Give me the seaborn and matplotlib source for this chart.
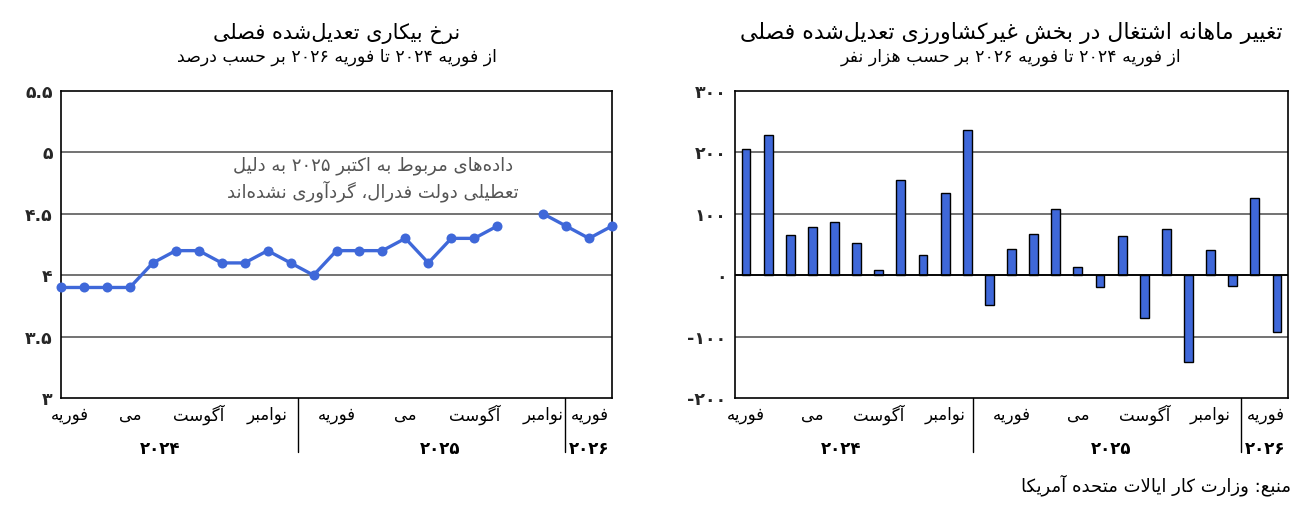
import numpy as np
import pandas as pd
import matplotlib
matplotlib.use("Agg")
import matplotlib.pyplot as plt
import matplotlib.transforms as mtransforms
import seaborn as sns

# ---------------- data ----------------
month_index = list(range(25))  # Feb 2024 .. Feb 2026
unemployment = [3.9, 3.9, 3.9, 3.9, 4.1, 4.2, 4.2, 4.1, 4.1, 4.2, 4.1, 4.0,
                4.2, 4.2, 4.2, 4.3, 4.1, 4.3, 4.3, 4.4, np.nan, 4.5, 4.4, 4.3, 4.4]
payrolls = [206, 228, 65, 79, 87, 53, 9, 155, 33, 134, 237, -48,
            42, 67, 108, 13, -20, 64, -70, 76, -141, 41, -17, 126, -92]

month_labels = ["فوریه", "می", "آگوست", "نوامبر", "فوریه", "می", "آگوست", "نوامبر", "فوریه"]
month_label_pos = [0, 3, 6, 9, 12, 15, 18, 21, 24]
year_labels = ["۲۰۲۴", "۲۰۲۵", "۲۰۲۶"]
year_label_pos = [4.3, 16.5, 24]

rate_ticks = [3, 3.5, 4, 4.5, 5, 5.5]
rate_tick_labels = ["۳", "۳.۵", "۴", "۴.۵", "۵", "۵.۵"]
jobs_ticks = [-200, -100, 0, 100, 200, 300]
jobs_tick_labels = ["-۲۰۰", "-۱۰۰", "۰", "۱۰۰", "۲۰۰", "۳۰۰"]

title_left = "نرخ بیکاری تعدیل‌شده فصلی"
subtitle_left = "از فوریه ۲۰۲۴ تا فوریه ۲۰۲۶ بر حسب درصد"
title_right = "تغییر ماهانه اشتغال در بخش غیرکشاورزی تعدیل‌شده فصلی"
subtitle_right = "از فوریه ۲۰۲۴ تا فوریه ۲۰۲۶ بر حسب هزار نفر"
note_text = "داده‌های مربوط به اکتبر ۲۰۲۵ به دلیل\nتعطیلی دولت فدرال، گردآوری نشده‌اند"
source_text = "منبع: وزارت کار ایالات متحده آمریکا"

# ---------------- Persian shaping + RTL ordering helper ----------------
FORMS = {
    '\u0621': ('\uFE80',),
    '\u0622': ('\uFE81', '\uFE82'),
    '\u0623': ('\uFE83', '\uFE84'),
    '\u0624': ('\uFE85', '\uFE86'),
    '\u0625': ('\uFE87', '\uFE88'),
    '\u0626': ('\uFE89', '\uFE8A', '\uFE8B', '\uFE8C'),
    '\u0627': ('\uFE8D', '\uFE8E'),
    '\u0628': ('\uFE8F', '\uFE90', '\uFE91', '\uFE92'),
    '\u0629': ('\uFE93', '\uFE94'),
    '\u062A': ('\uFE95', '\uFE96', '\uFE97', '\uFE98'),
    '\u062B': ('\uFE99', '\uFE9A', '\uFE9B', '\uFE9C'),
    '\u062C': ('\uFE9D', '\uFE9E', '\uFE9F', '\uFEA0'),
    '\u062D': ('\uFEA1', '\uFEA2', '\uFEA3', '\uFEA4'),
    '\u062E': ('\uFEA5', '\uFEA6', '\uFEA7', '\uFEA8'),
    '\u062F': ('\uFEA9', '\uFEAA'),
    '\u0630': ('\uFEAB', '\uFEAC'),
    '\u0631': ('\uFEAD', '\uFEAE'),
    '\u0632': ('\uFEAF', '\uFEB0'),
    '\u0633': ('\uFEB1', '\uFEB2', '\uFEB3', '\uFEB4'),
    '\u0634': ('\uFEB5', '\uFEB6', '\uFEB7', '\uFEB8'),
    '\u0635': ('\uFEB9', '\uFEBA', '\uFEBB', '\uFEBC'),
    '\u0636': ('\uFEBD', '\uFEBE', '\uFEBF', '\uFEC0'),
    '\u0637': ('\uFEC1', '\uFEC2', '\uFEC3', '\uFEC4'),
    '\u0638': ('\uFEC5', '\uFEC6', '\uFEC7', '\uFEC8'),
    '\u0639': ('\uFEC9', '\uFECA', '\uFECB', '\uFECC'),
    '\u063A': ('\uFECD', '\uFECE', '\uFECF', '\uFED0'),
    '\u0641': ('\uFED1', '\uFED2', '\uFED3', '\uFED4'),
    '\u0642': ('\uFED5', '\uFED6', '\uFED7', '\uFED8'),
    '\u0643': ('\uFED9', '\uFEDA', '\uFEDB', '\uFEDC'),
    '\u0644': ('\uFEDD', '\uFEDE', '\uFEDF', '\uFEE0'),
    '\u0645': ('\uFEE1', '\uFEE2', '\uFEE3', '\uFEE4'),
    '\u0646': ('\uFEE5', '\uFEE6', '\uFEE7', '\uFEE8'),
    '\u0647': ('\uFEE9', '\uFEEA', '\uFEEB', '\uFEEC'),
    '\u0648': ('\uFEED', '\uFEEE'),
    '\u0649': ('\uFEEF', '\uFEF0'),
    '\u064A': ('\uFEF1', '\uFEF2', '\uFEF3', '\uFEF4'),
    '\u067E': ('\uFB56', '\uFB57', '\uFB58', '\uFB59'),
    '\u0686': ('\uFB7A', '\uFB7B', '\uFB7C', '\uFB7D'),
    '\u0698': ('\uFB8A', '\uFB8B'),
    '\u06A9': ('\uFB8E', '\uFB8F', '\uFB90', '\uFB91'),
    '\u06AF': ('\uFB92', '\uFB93', '\uFB94', '\uFB95'),
    '\u06CC': ('\uFBFC', '\uFBFD', '\uFBFE', '\uFBFF'),
}
LAM_ALEF = {'\u0622': ('\uFEF5', '\uFEF6'), '\u0623': ('\uFEF7', '\uFEF8'),
            '\u0625': ('\uFEF9', '\uFEFA'), '\u0627': ('\uFEFB', '\uFEFC')}
ZWNJ = '\u200c'
DIGITS = set('0123456789۰۱۲۳۴۵۶۷۸۹')


def _dual(c):
    return c in FORMS and len(FORMS[c]) == 4


def _joins(c):
    return c in FORMS and len(FORMS[c]) >= 2


def _shape(text):
    out = []
    n = len(text)
    i = 0
    while i < n:
        c = text[i]
        if c not in FORMS:
            if c != ZWNJ:
                out.append(c)
            i += 1
            continue
        prev = text[i - 1] if i > 0 else None
        jp = prev is not None and _dual(prev)
        if c == '\u0644' and i + 1 < n and text[i + 1] in LAM_ALEF:
            lig = LAM_ALEF[text[i + 1]]
            out.append(lig[1] if jp else lig[0])
            i += 2
            continue
        nxt = text[i + 1] if i + 1 < n else None
        jn = _dual(c) and nxt is not None and _joins(nxt)
        f = FORMS[c]
        if jp and jn:
            g = f[3]
        elif jp:
            g = f[1]
        elif jn:
            g = f[2]
        else:
            g = f[0]
        out.append(g)
        i += 1
    return ''.join(out)


def fa(s):
    """Shape Persian text and put it in right-to-left visual order
    (numbers keep their left-to-right order)."""
    lines = []
    for line in s.split('\n'):
        shaped = _shape(line)
        runs, cur, cur_num = [], '', None
        for k, c in enumerate(shaped):
            is_num = c in DIGITS or (c == '.' and cur_num and k + 1 < len(shaped)
                                     and shaped[k + 1] in DIGITS)
            if cur and is_num != cur_num:
                runs.append((cur, cur_num))
                cur = ''
            cur += c
            cur_num = is_num
        if cur:
            runs.append((cur, cur_num))
        lines.append(''.join(r if num else r[::-1] for r, num in reversed(runs)))
    return '\n'.join(lines)


# ---------------- style ----------------
sns.set_theme(style="white")
plt.rcParams['font.family'] = ['DejaVu Sans']
BLUE = '#3f68d9'
GRID = '#5a5a5a'

fig = plt.figure(figsize=(13.15, 5.05), dpi=100)
W, H = 1315, 505


def add_ax(x0, x1, y0, y1):
    return fig.add_axes([x0 / W, 1 - y1 / H, (x1 - x0) / W, (y1 - y0) / H])


axL = add_ax(61, 612, 91, 398)
axR = add_ax(735, 1288, 91, 398)

# ---------------- left: unemployment line ----------------
seg = [0 if i < 20 else 1 for i in month_index]
dfL = pd.DataFrame({'m': month_index, 'rate': unemployment, 'seg': seg}).dropna()
sns.lineplot(data=dfL, x='m', y='rate', units='seg', estimator=None, ax=axL,
             color=BLUE, linewidth=2.4, marker='o', markersize=7.2,
             markeredgewidth=0, legend=False, clip_on=False, zorder=5)
axL.set_xlim(0, 24)
axL.set_ylim(3, 5.5)

# ---------------- right: payroll bars ----------------
dfR = pd.DataFrame({'m': month_index, 'jobs': payrolls})
sns.barplot(data=dfR, x='m', y='jobs', ax=axR, color=BLUE, width=0.4,
            edgecolor='black', linewidth=1.0, saturation=1, zorder=3)
axR.set_xlim(-0.5, 24.5)
axR.set_ylim(-200, 300)
axR.axhline(0, color='black', linewidth=1.3, zorder=4)

for ax, ticks, tlabels in [(axL, rate_ticks, rate_tick_labels),
                           (axR, jobs_ticks, jobs_tick_labels)]:
    ax.set_xlabel('')
    ax.set_ylabel('')
    ax.set_yticks(ticks)
    ax.set_yticklabels(tlabels, fontsize=12.5, fontweight='bold')
    ax.tick_params(axis='y', length=0, pad=6)
    for t in ticks[1:-1]:
        ax.axhline(t, color=GRID, linewidth=1.2, zorder=1)
    for sp in ax.spines.values():
        sp.set_visible(True)
        sp.set_color('black')
        sp.set_linewidth(1.2)
    ax.set_facecolor('white')

axL.set_xticks(month_index)
axL.set_xticklabels([])
axL.tick_params(axis='x', direction='in', length=4, width=1, color='black')
axR.set_xticks([])

# category labels, dividers, years
for ax in (axL, axR):
    trans = mtransforms.blended_transform_factory(ax.transData, ax.transAxes)
    for i, (lab, pos) in enumerate(zip(month_labels, month_label_pos)):
        if i == len(month_labels) - 1:
            ax.text(0.995, -0.054, fa(lab), transform=ax.transAxes, ha='right',
                    va='center', fontsize=12, color='black')
        else:
            x = pos + 0.4 if (ax is axL and i == 0) else pos
            ax.text(x, -0.054, fa(lab), transform=trans, ha='center',
                    va='center', fontsize=12, color='black')
    for j, (lab, pos) in enumerate(zip(year_labels, year_label_pos)):
        if j == len(year_labels) - 1:
            ax.text(0.995, -0.165, lab, transform=ax.transAxes, ha='right',
                    va='center', fontsize=12, fontweight='bold', color='black')
        else:
            ax.text(pos, -0.165, lab, transform=trans, ha='center',
                    va='center', fontsize=12, fontweight='bold', color='black')
    for xf in (0.43, 0.915):
        ax.plot([xf, xf], [0, -0.175], transform=ax.transAxes, color='black',
                linewidth=1.0, clip_on=False)

# annotation in left chart
axL.text(13.6, 4.785, fa(note_text), ha='center', va='center', fontsize=13,
         color='#555555', linespacing=1.3, zorder=6)

# titles
for ax, t, st, tfs in [(axL, title_left, subtitle_left, 15),
                       (axR, title_right, subtitle_right, 15.8)]:
    bb = ax.get_position()
    cx = bb.x0 + bb.width / 2
    fig.text(cx, 1 - 33 / H, fa(t), ha='center', va='center', fontsize=tfs, color='black')
    fig.text(cx, 1 - 57 / H, fa(st), ha='center', va='center', fontsize=12.5, color='black')

fig.text(1291 / W, 1 - 485 / H, fa(source_text), ha='right', va='center',
         fontsize=13, color='black')

fig.savefig('out.png', dpi=100, facecolor='white')
